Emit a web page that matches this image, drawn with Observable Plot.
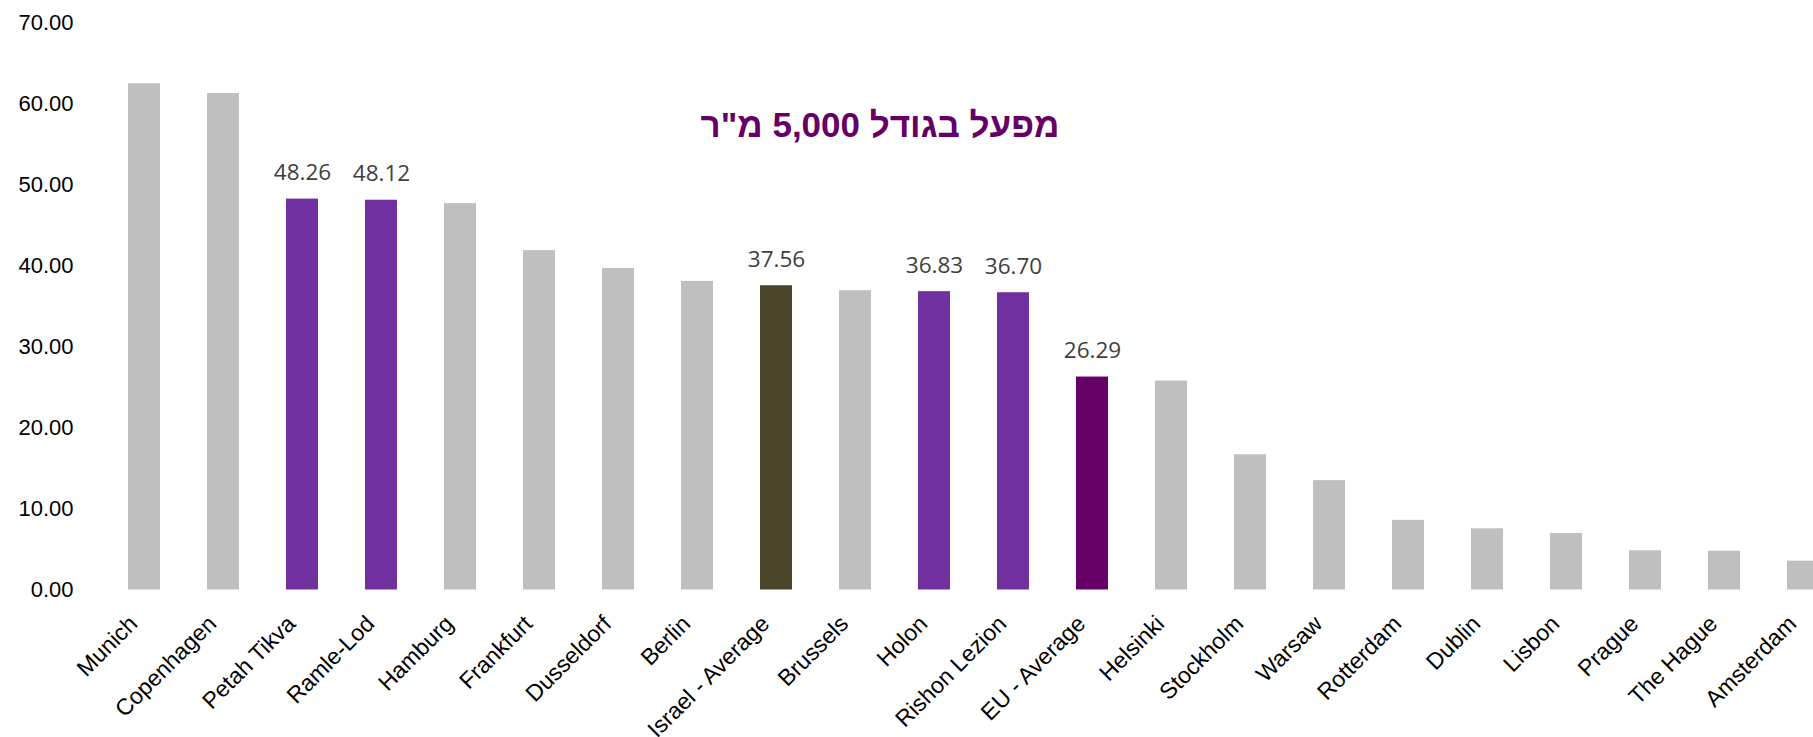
<!DOCTYPE html>
<html>
<head>
<meta charset="utf-8">
<script src="https://cdn.jsdelivr.net/npm/d3@7"></script>
<script src="https://cdn.jsdelivr.net/npm/@observablehq/plot@0.6"></script>
<style>
  html, body { margin: 0; padding: 0; background: #fff; overflow: hidden; }
  #wrap { position: relative; width: 1813px; height: 737px; }
  #title { position: absolute; left: 0; width: 1760px; top: 105px; text-align: center; direction: rtl;
           font-family: "Liberation Sans", Arial, sans-serif; font-weight: bold; font-size: 35px; color: #660066; }
  svg { overflow: visible; }
</style>
</head>
<body>
<div id="wrap"><div id="chart"></div><div id="title"></div></div>
<script>
const titleText = "מפעל בגודל 5,000 מ\"ר";

const categories = ["Munich", "Copenhagen", "Petah Tikva", "Ramle-Lod", "Hamburg", "Frankfurt", "Dusseldorf", "Berlin",
  "Israel - Average", "Brussels", "Holon", "Rishon Lezion", "EU - Average", "Helsinki", "Stockholm", "Warsaw",
  "Rotterdam", "Dublin", "Lisbon", "Prague", "The Hague", "Amsterdam"];
const values = [62.5, 61.3, 48.26, 48.12, 47.7, 41.9, 39.7, 38.1,
  37.56, 36.95, 36.83, 36.70, 26.29, 25.8, 16.7, 13.5,
  8.6, 7.55, 6.97, 4.84, 4.79, 3.56];
const groups = ["other", "other", "israel", "israel", "other", "other", "other", "other",
  "israelAvg", "other", "israel", "israel", "euAvg", "other", "other", "other",
  "other", "other", "other", "other", "other", "other"];
const groupColors = { other: "#BFBFBF", israel: "#7030A0", israelAvg: "#4A4429", euAvg: "#660066" };
const labelled = ["israel", "israelAvg", "euAvg"];
const yTicks = [0, 10, 20, 30, 40, 50, 60, 70];

const data = categories.map((c, i) => ({ city: c, value: values[i], group: groups[i] }));

const chart = Plot.plot({
  width: 1813,
  height: 737,
  marginTop: 22.5,
  marginBottom: 147.5,
  marginLeft: 78,
  marginRight: 0,
  style: { background: "transparent", overflow: "visible" },
  x: { type: "band", domain: categories, range: [71.2, 1874.7], paddingInner: 0.6, paddingOuter: 0.6, align: 0.5, label: null },
  y: { domain: [0, 70], label: null },
  marks: [
    Plot.barY(data, { x: "city", y: "value", fill: d => groupColors[d.group] }),
    Plot.text(data.filter(d => labelled.includes(d.group)), {
      x: "city", y: "value", text: d => d.value.toFixed(2), dy: -26,
      fontSize: 22.5, fill: "#404040", fontFamily: "Open Sans", lineAnchor: "middle"
    }),
    Plot.axisY({ ticks: yTicks, tickFormat: d => d.toFixed(2), tickSize: 0, tickPadding: 5,
      fontSize: 22, fontFamily: "Liberation Sans", fill: "#000", label: null }),
    Plot.axisX({ tickRotate: -45, tickSize: 0, tickPadding: 30, dx: -11, fontSize: 23, fontFamily: "Liberation Sans",
      fill: "#000", label: null })
  ]
});
document.getElementById("chart").appendChild(chart);
document.getElementById("title").textContent = titleText;
</script>
</body>
</html>
